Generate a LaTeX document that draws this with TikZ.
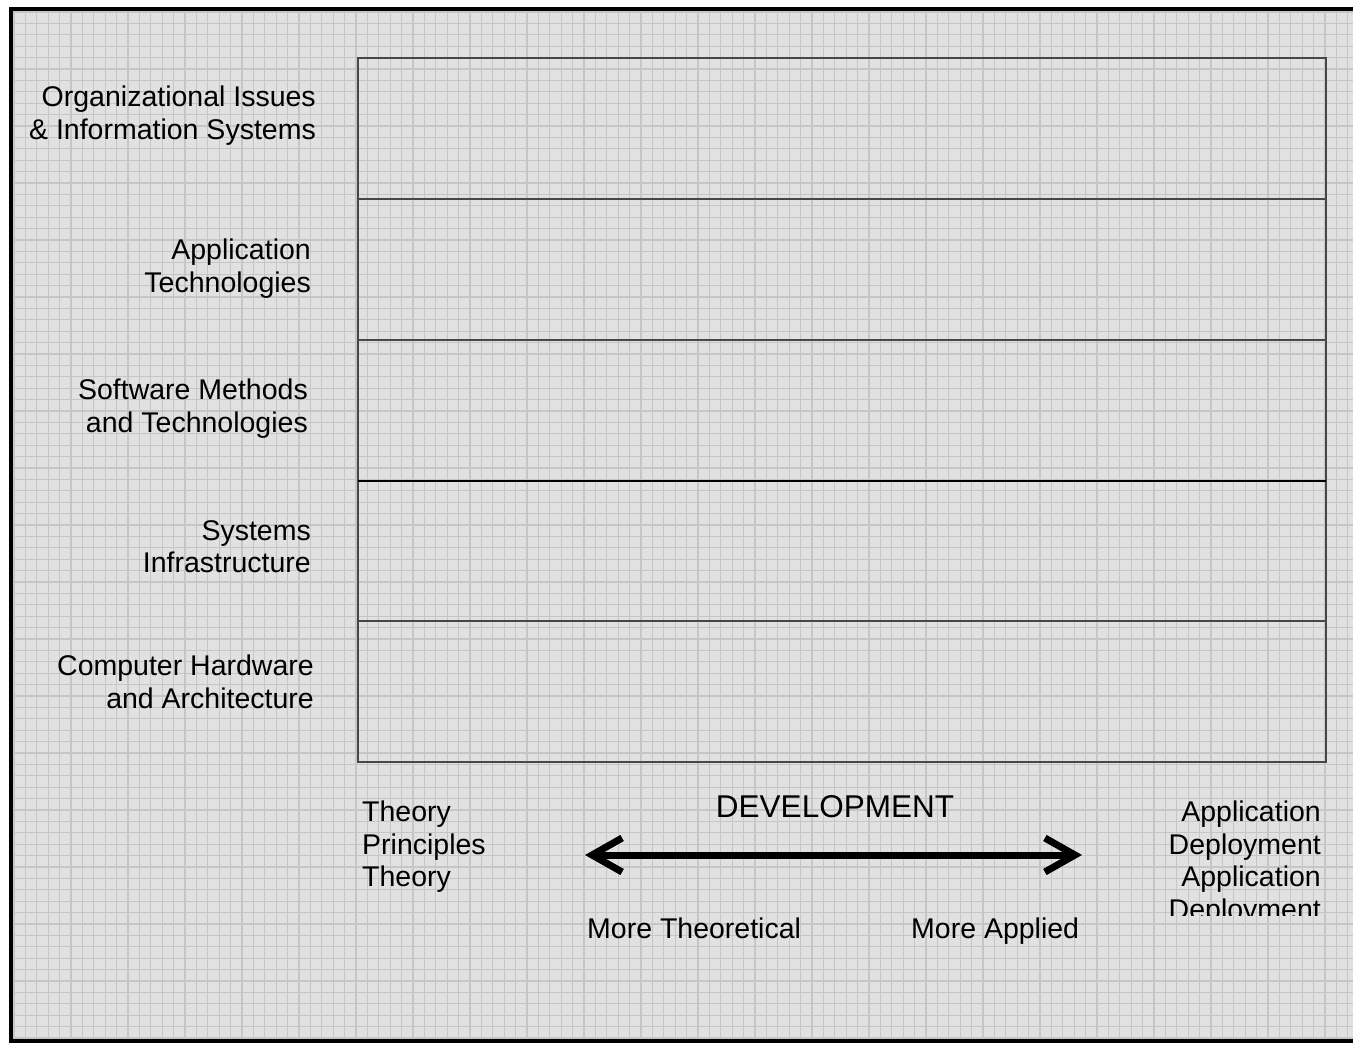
\documentclass[tikz,border=0pt]{standalone}
\usepackage{fontspec}
\setmainfont{Liberation Sans}
\usetikzlibrary{arrows.meta}
\definecolor{paper}{HTML}{E1E1E1}
\definecolor{gridgray}{HTML}{C6C6C6}
\definecolor{rowline}{HTML}{474747}
\tikzset{
	lbl/.style={inner sep=0pt, font=\fontsize{28.5}{32.5}\selectfont},
	rowedge/.style={draw=rowline, line width=2.8pt},
	devarrow/.style={line width=7pt, line cap=round,
		{Straight Barb[length=30pt,width=34pt]}-{Straight Barb[length=30pt,width=34pt]}},
}
\begin{document}
\begin{tikzpicture}[x=1pt,y=-1pt]
		\useasboundingbox (0,0) rectangle (1353,1044);
		% paper
		\fill[paper] (10,8) rectangle (1353,1041);
		\foreach \gx in {14,25.4,...,1353}{
		\draw[gridgray, line width=1.2pt] (\gx,8) -- (\gx,1041);
		};
		\foreach \gy in {12,23.4,...,1041}{
		\draw[gridgray, line width=1.2pt] (10,\gy) -- (1353,\gy);
		};
		\draw[line width=4pt] (1353,9) -- (11,9) -- (11,1041) -- (1353,1041);

		% rows
		\foreach \i/\y in {0/58,1/199,2/340,3/481,4/621,5/762}{
		\coordinate (l\i) at (358,\y);
		\coordinate (r\i) at (1326,\y);
      	};
		\draw[rowedge] (l0) rectangle (r5);
		\draw (l1) edge[rowedge] (r1);
		\draw (l2) edge[rowedge] (r2);
		\draw (l3) edge[rowedge, draw=black] (r3);
		\draw (l4) edge[rowedge] (r4);

		% row labels
		\node[lbl, align=right, anchor=north east] (org) at (316,86) {Organizational Issues\\\& Information Systems};
		\node[lbl, align=right, anchor=north east] (apptech) at (311,239) {Application\\Technologies};
		\node[lbl, align=right, anchor=north east] (soft) at (308,379) {Software Methods\\and Technologies};
		\node[lbl, align=right, anchor=north east] (sys) at (311,520) {Systems\\Infrastructure};
		\node[lbl, align=right, anchor=north east] (hw) at (314,655) {Computer Hardware\\and Architecture};

		% axis
		\node[lbl, align=left, anchor=north west] (theory) at (362,801) {Theory\\Principles\\Theory};
		\begin{scope}
		\clip (1100,780) rectangle (1353,915);
		\node[lbl, align=right, anchor=north east] (deploy) at (1321,801) {Application\\Deployment\\Application\\Deployment};
		\end{scope}
		\node[lbl, font=\fontsize{31.5}{36}\selectfont, anchor=north] (dev) at (835,795) {DEVELOPMENT};
		\coordinate (tipL) at (585,855);
		\coordinate (tipR) at (1082,855);
		\draw[devarrow] (tipL) -- (tipR);
		\node[lbl, anchor=north west] (moretheo) at (587,918) {More Theoretical};
		\node[lbl, anchor=north west] (moreapp) at (911,918) {More Applied};
	\end{tikzpicture}
\end{document}
